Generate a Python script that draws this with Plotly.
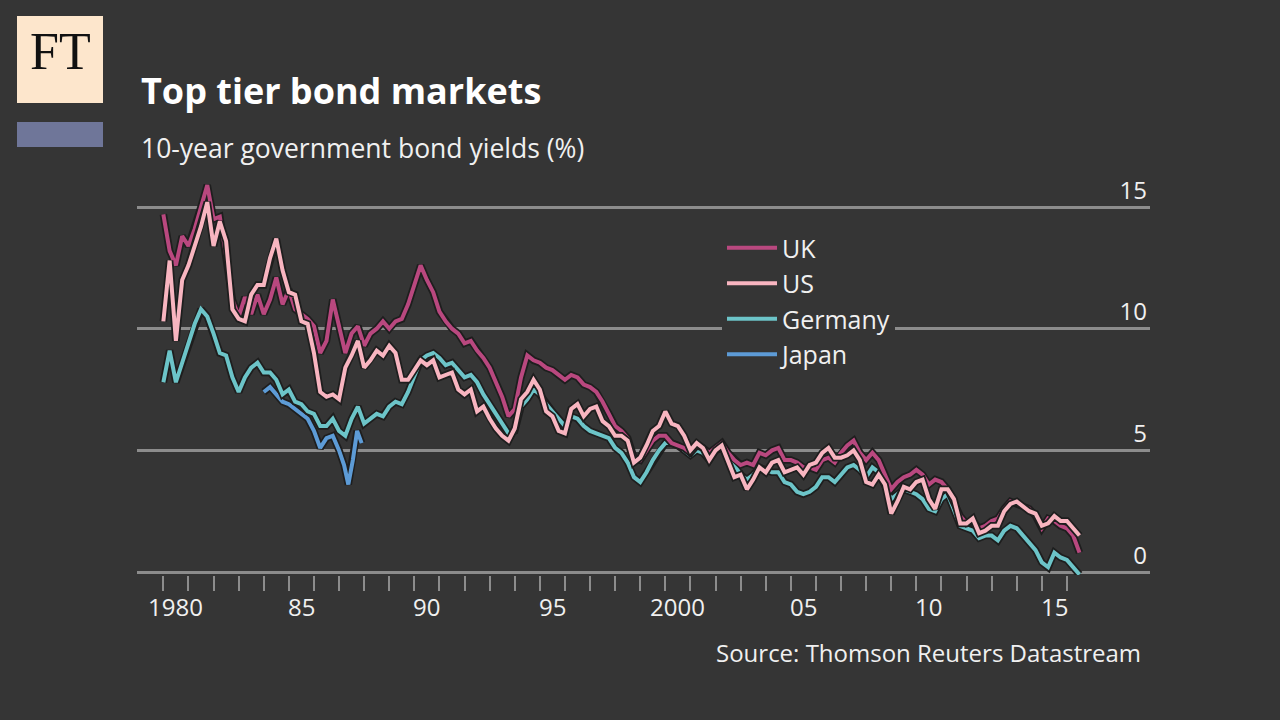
import numpy as np
import plotly.graph_objects as go

# quarterly grid, 1980 to mid-2016
quarters = np.arange(1980, 2016.51, 0.25)

# 10-year government bond yields (%)
uk = [
    14.7, 13.2, 12.6, 13.8,  # 1980
    13.4, 14.1, 15.0, 15.9,
    14.5, 14.6, 13.0, 11.2,
    10.5, 11.3, 10.6, 11.4,
    10.6, 11.2, 12.1, 11.0,
    11.6, 10.8, 10.6, 10.4,  # 1985
    10.1, 9.0, 9.5, 11.2,
    10.1, 9.0, 9.8, 10.1,
    9.3, 9.8, 10.0, 10.3,
    10.0, 10.3, 10.4, 11.0,
    11.8, 12.6, 12.0, 11.5,  # 1990
    10.7, 10.3, 10.0, 9.8,
    9.4, 9.5, 9.1, 8.8,
    8.4, 7.8, 7.2, 6.4,
    6.7, 8.0, 8.9, 8.7,
    8.6, 8.4, 8.3, 8.1,  # 1995
    7.9, 8.1, 8.0, 7.7,
    7.6, 7.4, 7.0, 6.5,
    6.0, 5.8, 5.5, 4.7,
    4.6, 5.0, 5.4, 5.6,
    5.6, 5.3, 5.2, 5.1,  # 2000
    4.9, 5.2, 5.1, 4.9,
    5.1, 5.3, 4.9, 4.6,
    4.4, 4.5, 4.4, 4.9,
    4.8, 5.0, 5.1, 4.6,
    4.6, 4.5, 4.3, 4.3,  # 2005
    4.2, 4.6, 4.7, 4.5,
    4.9, 5.2, 5.4, 4.9,
    4.6, 4.9, 4.6, 4.0,
    3.4, 3.7, 3.9, 4.0,
    4.2, 4.0, 3.6, 3.8,  # 2010
    3.7, 3.4, 2.8, 2.3,
    2.0, 2.1, 1.8, 1.9,
    2.1, 2.2, 2.6, 2.9,
    2.8, 2.7, 2.6, 2.3,
    1.8, 2.2, 2.1, 1.9,  # 2015
    1.8, 1.5, 0.8,
]
us = [
    10.3, 12.8, 9.5, 12.0,  # 1980
    12.6, 13.4, 14.2, 15.2,
    13.4, 14.4, 13.6, 10.8,
    10.4, 10.3, 11.4, 11.8,
    11.8, 12.9, 13.7, 12.4,
    11.5, 11.4, 10.3, 10.2,  # 1985
    9.0, 7.4, 7.2, 7.3,
    7.1, 8.4, 8.9, 9.5,
    8.4, 8.7, 9.1, 8.9,
    9.3, 9.0, 7.9, 7.9,
    8.3, 8.7, 8.5, 8.7,  # 1990
    8.0, 8.1, 8.2, 7.5,
    7.3, 7.5, 6.6, 6.8,
    6.3, 5.9, 5.6, 5.4,
    5.9, 7.1, 7.4, 7.9,
    7.5, 6.6, 6.4, 5.8,  # 1995
    5.7, 6.7, 6.9, 6.4,
    6.7, 6.8, 6.2, 6.0,
    5.6, 5.6, 5.4, 4.5,
    4.7, 5.2, 5.8, 6.0,
    6.6, 6.1, 6.0, 5.6,  # 2000
    5.0, 5.3, 5.1, 4.6,
    5.0, 5.2, 4.6, 3.9,
    4.0, 3.4, 3.8, 4.3,
    4.1, 4.5, 4.6, 4.1,
    4.2, 4.3, 4.0, 4.4,  # 2005
    4.5, 4.9, 5.1, 4.7,
    4.7, 4.8, 5.0, 4.6,
    3.7, 3.6, 4.0, 3.6,
    2.4, 2.9, 3.5, 3.4,
    3.7, 3.8, 3.0, 2.6,  # 2010
    3.4, 3.4, 3.0, 2.0,
    2.0, 2.2, 1.6, 1.7,
    1.9, 1.9, 2.5, 2.8,
    2.9, 2.7, 2.5, 2.4,
    1.9, 2.0, 2.3, 2.1,  # 2015
    2.1, 1.8, 1.5,
]
germany = [
    7.8, 9.1, 7.8, 8.6,  # 1980
    9.3, 10.2, 10.8, 10.5,
    9.8, 9.0, 8.9, 8.0,
    7.4, 8.0, 8.4, 8.6,
    8.2, 8.2, 7.9, 7.3,
    7.5, 7.0, 6.9, 6.6,  # 1985
    6.5, 6.0, 6.0, 6.3,
    5.8, 5.6, 6.3, 6.8,
    6.1, 6.3, 6.5, 6.4,
    6.8, 7.0, 6.9, 7.4,
    8.0, 8.7, 8.9, 9.0,  # 1990
    8.8, 8.5, 8.6, 8.3,
    8.0, 8.1, 7.8, 7.3,
    6.9, 6.5, 6.1, 5.7,
    5.8, 6.8, 7.1, 7.5,
    7.3, 6.9, 6.6, 6.3,  # 1995
    6.0, 6.4, 6.3, 6.0,
    5.8, 5.7, 5.6, 5.5,
    5.1, 4.9, 4.5, 3.9,
    3.7, 4.1, 4.6, 5.0,
    5.3, 5.3, 5.2, 5.0,  # 2000
    4.8, 5.0, 4.9, 4.6,
    5.0, 5.1, 4.7, 4.4,
    4.0, 3.8, 4.0, 4.3,
    4.2, 4.1, 4.1, 3.7,
    3.6, 3.3, 3.2, 3.3,  # 2005
    3.5, 3.9, 3.9, 3.7,
    4.0, 4.3, 4.4, 4.2,
    3.9, 4.3, 4.1, 3.5,
    3.0, 3.2, 3.4, 3.3,
    3.2, 3.0, 2.6, 2.5,  # 2010
    3.0, 3.2, 2.6, 1.9,
    1.8, 1.7, 1.4, 1.5,
    1.5, 1.3, 1.7, 1.9,
    1.8, 1.5, 1.2, 0.9,
    0.4, 0.2, 0.8, 0.6,  # 2015
    0.5, 0.2, -0.1,
]
# Japan is only drawn for the mid-1980s in the original
japan_years = [1984.0, 1984.25, 1984.5, 1984.75, 1985.0, 1985.25, 1985.5, 1985.75, 1986.0,
               1986.25, 1986.5, 1986.75, 1987.0, 1987.2, 1987.37, 1987.55, 1987.72, 1987.9]
japan = [7.4, 7.6, 7.3, 7.0, 6.9, 6.7, 6.5, 6.3, 5.8,
         5.1, 5.5, 5.6, 5.0, 4.4, 3.6, 4.6, 5.8, 5.3]

year_ticks = list(range(1980, 2017))
label_years = [1980, 1985, 1990, 1995, 2000, 2005, 2010, 2015]
label_text = ['1980', '85', '90', '95', '2000', '05', '10', '15']
y_ticks = [0, 5, 10, 15]

bg = '#353535'
grid = '#8c8c8c'
text_col = '#f0f0f0'
font = 'Open Sans'

fig = go.Figure()

# draw order: Japan, Germany, UK, US -- each with a dark halo underneath
series = [
    ('Japan', japan_years, japan, '#5d9bd6', 4),
    ('Germany', quarters, germany, '#6cc4c8', 3),
    ('UK', quarters, uk, '#b9487f', 1),
    ('US', quarters, us, '#f8b5c0', 2),
]
for name, xs, ys, colour, rank in series:
    fig.add_trace(go.Scatter(x=xs, y=ys, mode='lines', showlegend=False, hoverinfo='skip',
                             line=dict(color='#1e1e1e', width=7.5)))
    fig.add_trace(go.Scatter(x=xs, y=ys, mode='lines', name=name, legendrank=rank,
                             line=dict(color=colour, width=4)))

# x labels sit in the middle of each year
for yr, txt in zip(label_years, label_text):
    fig.add_annotation(x=yr + 0.5, y=1 - 606 / 720, xref='x', yref='paper', yanchor='middle',
                       text=txt, showarrow=False,
                       font=dict(size=24, color=text_col, family=font))

# FT logo block
fig.add_shape(type='rect', xref='paper', yref='paper', x0=17 / 1280, x1=103 / 1280,
              y0=1 - 103 / 720, y1=1 - 16 / 720, fillcolor='#fde6cc', line_width=0)
fig.add_shape(type='rect', xref='paper', yref='paper', x0=17 / 1280, x1=103 / 1280,
              y0=1 - 147 / 720, y1=1 - 122 / 720, fillcolor='#6f7699', line_width=0)
fig.add_annotation(x=60 / 1280, y=1 - 52 / 720, xref='paper', yref='paper',
                   xanchor='center', yanchor='middle', text='FT', showarrow=False,
                   font=dict(size=52, color='#111111', family='Liberation Serif'))

fig.add_annotation(x=139 / 1280, y=1 - 90 / 720, xref='paper', yref='paper',
                   xanchor='left', yanchor='middle',
                   text='<b>Top tier bond markets</b>', showarrow=False,
                   font=dict(size=36, color='#ffffff', family=font))
fig.add_annotation(x=139 / 1280, y=1 - 148 / 720, xref='paper', yref='paper',
                   xanchor='left', yanchor='middle',
                   text='10-year government bond yields (%)', showarrow=False,
                   font=dict(size=26.5, color=text_col, family=font))
fig.add_annotation(x=1143 / 1280, y=1 - 652 / 720, xref='paper', yref='paper',
                   xanchor='right', yanchor='middle',
                   text='Source: Thomson Reuters Datastream', showarrow=False,
                   font=dict(size=24, color=text_col, family=font))

fig.update_layout(
    width=1280, height=720,
    margin=dict(l=0, r=0, t=0, b=0),
    paper_bgcolor=bg, plot_bgcolor=bg,
    font=dict(family=font, color=text_col, size=24),
    xaxis=dict(domain=[137 / 1280, 1150 / 1280], range=[1978.95, 2019.31],
               tickvals=year_ticks, ticktext=[''] * len(year_ticks),
               ticks='outside', ticklen=15, tickwidth=2, tickcolor=grid,
               showgrid=False, zeroline=False, showline=False),
    yaxis=dict(domain=[145 / 720, 550 / 720], range=[-0.12, 16.52], side='right',
               tickvals=y_ticks, ticklabelposition='inside top', ticks='',
               gridcolor=grid, gridwidth=2.5, zeroline=False, showline=False,
               tickfont=dict(size=24, color=text_col)),
    legend=dict(x=722 / 1280, y=1 - 225 / 720, xanchor='left', yanchor='top',
                bgcolor=bg, borderwidth=0, font=dict(size=25, color=text_col),
                itemwidth=50, tracegroupgap=0),
    showlegend=True,
)

# drop the default page margin so the figure sits at the window's top-left corner
fig.write_html('out.html', config={'displayModeBar': False},
               post_script="document.body.style.margin='0';")
